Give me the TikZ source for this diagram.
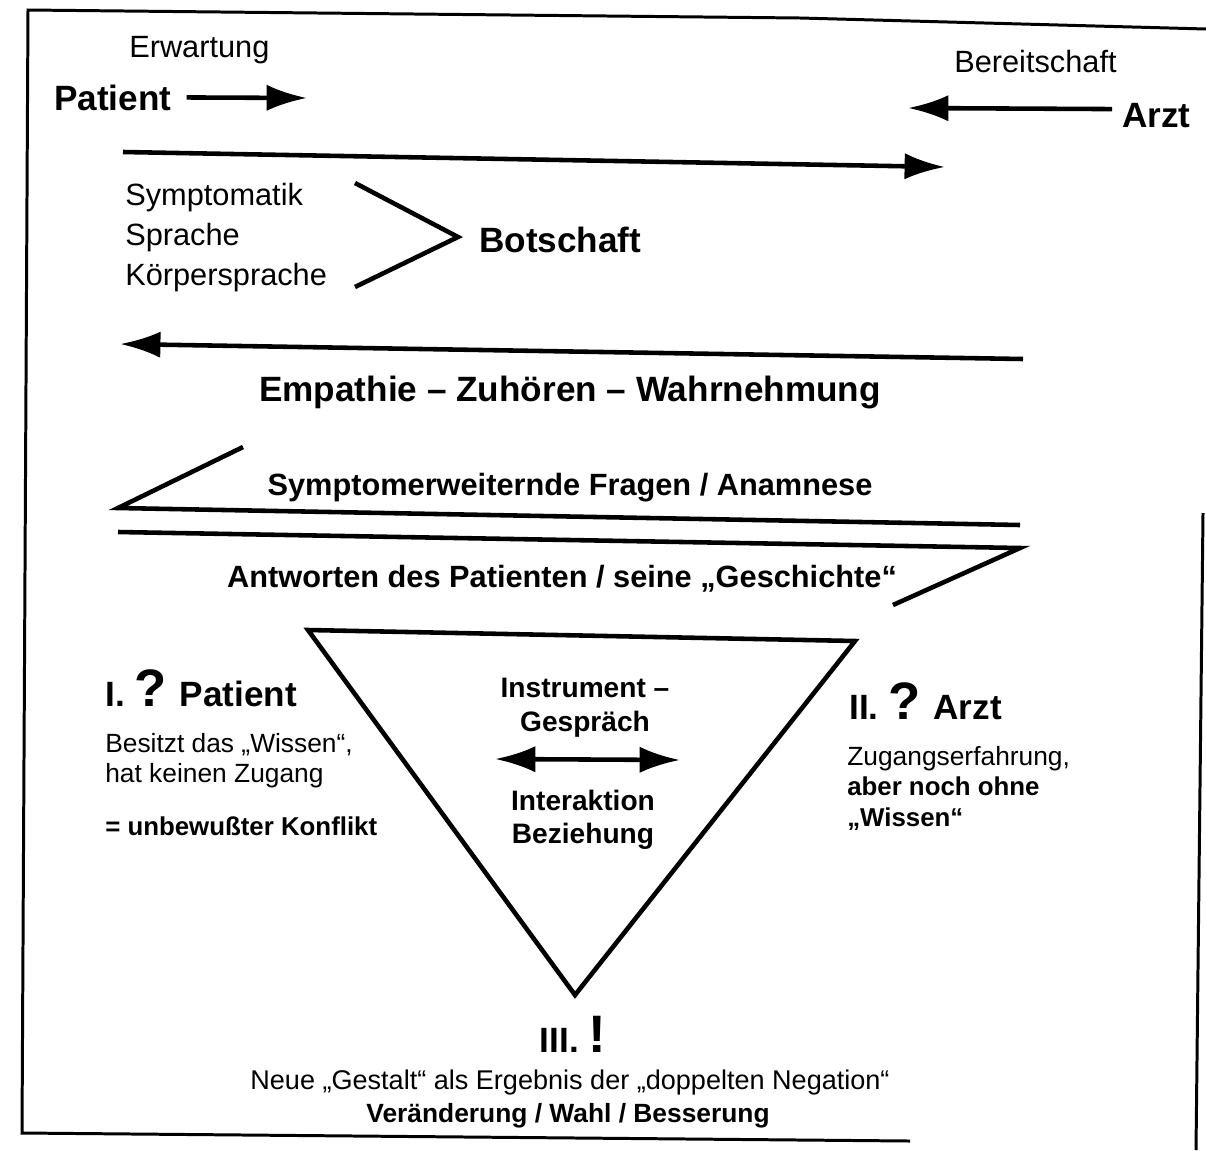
\documentclass[tikz,border=0pt]{standalone}
\usepackage{fontspec}
\setmainfont{Liberation Sans}
\usetikzlibrary{arrows.meta}
\begin{document}
\begin{tikzpicture}[x=0.02cm,y=-0.02cm,line width=2.6pt,
  >={Latex[length=23pt,width=15pt]},
  every node/.style={inner sep=0pt,anchor=base west},
  lbl/.style={font=\fontsize{17.5}{21}\selectfont},
  head/.style={font=\bfseries\fontsize{20}{24}\selectfont},
  mid/.style={font=\bfseries\fontsize{17.5}{21}\selectfont,anchor=base},
  tri/.style={font=\bfseries\fontsize{16}{19}\selectfont,anchor=base},
  side/.style={font=\fontsize{15}{18}\selectfont},
  sideb/.style={font=\bfseries\fontsize{14.7}{18}\selectfont},
  frame/.style={line width=1.7pt}]
\useasboundingbox (0,0) rectangle (1206,1150);
% frame of the page
\draw[frame] (1206,29)--(800,18)--(28,10)--(22,1133)--(910,1141);
\draw[frame] (1203,513)--(1196,1150);
% Patient / Arzt
\node[lbl] (erw) at (127,57) {Erwartung};
\node[head] (pat) at (52,110) {Patient};
\coordinate (patend) at (307,98);
\draw[->] ([xshift=0.26cm]pat.east) -- (patend);
\node[lbl] (ber) at (952,72) {Bereitschaft};
\node[head] (arzt) at (1120,127) {Arzt};
\coordinate (arztend) at (908,108);
\draw[->] ([shift={(-8,-6)}]arzt.west) -- (arztend);
% message
\coordinate (m1a) at (123,152);
\coordinate (m1b) at (945,167);
\draw[->] (m1a) -- (m1b);
\node[lbl] (sym) at (123,205) {Symptomatik};
\node[lbl] (spr) at (123,245) {Sprache};
\node[lbl] (koe) at (123,285) {Körpersprache};
\node[head] (bot) at (477,252) {Botschaft};
\coordinate (bt) at (355,183);
\coordinate (bv) at (458,237);
\coordinate (bb) at (355,287);
\draw[line join=miter] (bt) -- (bv) -- (bb);
% answer of the doctor
\coordinate (m2a) at (1023,359);
\coordinate (m2b) at (120,344);
\draw[->] (m2a) -- (m2b);
\node[head,anchor=base] (emp) at (570,401) {Empathie – Zuhören – Wahrnehmung};
% questions and answers
\coordinate (q1) at (243,447);
\coordinate (q2) at (118,508);
\coordinate (q3) at (1020,525);
\coordinate (r1) at (118,532);
\coordinate (r2) at (1020,548);
\coordinate (r3) at (893,605);
\draw[line join=miter] (q1) -- (q2) -- (q3);
\draw[line join=miter] (r1) -- (r2) -- (r3);
\node[mid] (fra) at (570,495) {Symptomerweiternde Fragen / Anamnese};
\node[mid] (ant) at (562,587) {Antworten des Patienten / seine „Geschichte“};
% triangle
\coordinate (tl) at (308,630);
\coordinate (tr) at (855,641);
\coordinate (tb) at (575,995);
\draw[line join=miter] (tl) -- (tr) -- (tb) -- cycle;
\node[tri] (ins) at (585,697) {Instrument –};
\node[tri] (ges) at (585,731) {Gespräch};
\coordinate (dl) at (495,759);
\coordinate (dr) at (680,760);
\draw[<->] (dl) -- (dr);
\node[tri] (int) at (583,810) {Interaktion};
\node[tri] (bez) at (583,843) {Beziehung};
% I. Patient
\node[head] (p1) at (103,706) {I. {\fontsize{30}{30}\selectfont ?} Patient};
\node[side] (p2) at (103,752) {Besitzt das „Wissen“,};
\node[side] (p3) at (103,782) {hat keinen Zugang};
\node[sideb] (p4) at (103,835) {= unbewußter Konflikt};
% II. Arzt
\node[head] (a1) at (847,719) {II. {\fontsize{30}{30}\selectfont ?} Arzt};
\node[side] (a2) at (845,765) {Zugangserfahrung,};
\node[sideb] (a3) at (845,795) {aber noch ohne};
\node[sideb] (a4) at (845,826) {„Wissen“};
% III.
\node[head,anchor=base] (g1) at (573,1052) {III. {\fontsize{30}{30}\selectfont !}};
\node[font=\fontsize{15.4}{18}\selectfont,anchor=base] (g2) at (570,1089) {Neue „Gestalt“ als Ergebnis der „doppelten Negation“};
\node[font=\bfseries\fontsize{15}{18}\selectfont,anchor=base] (g3) at (568,1122) {Veränderung / Wahl / Besserung};
\end{tikzpicture}
\end{document}
